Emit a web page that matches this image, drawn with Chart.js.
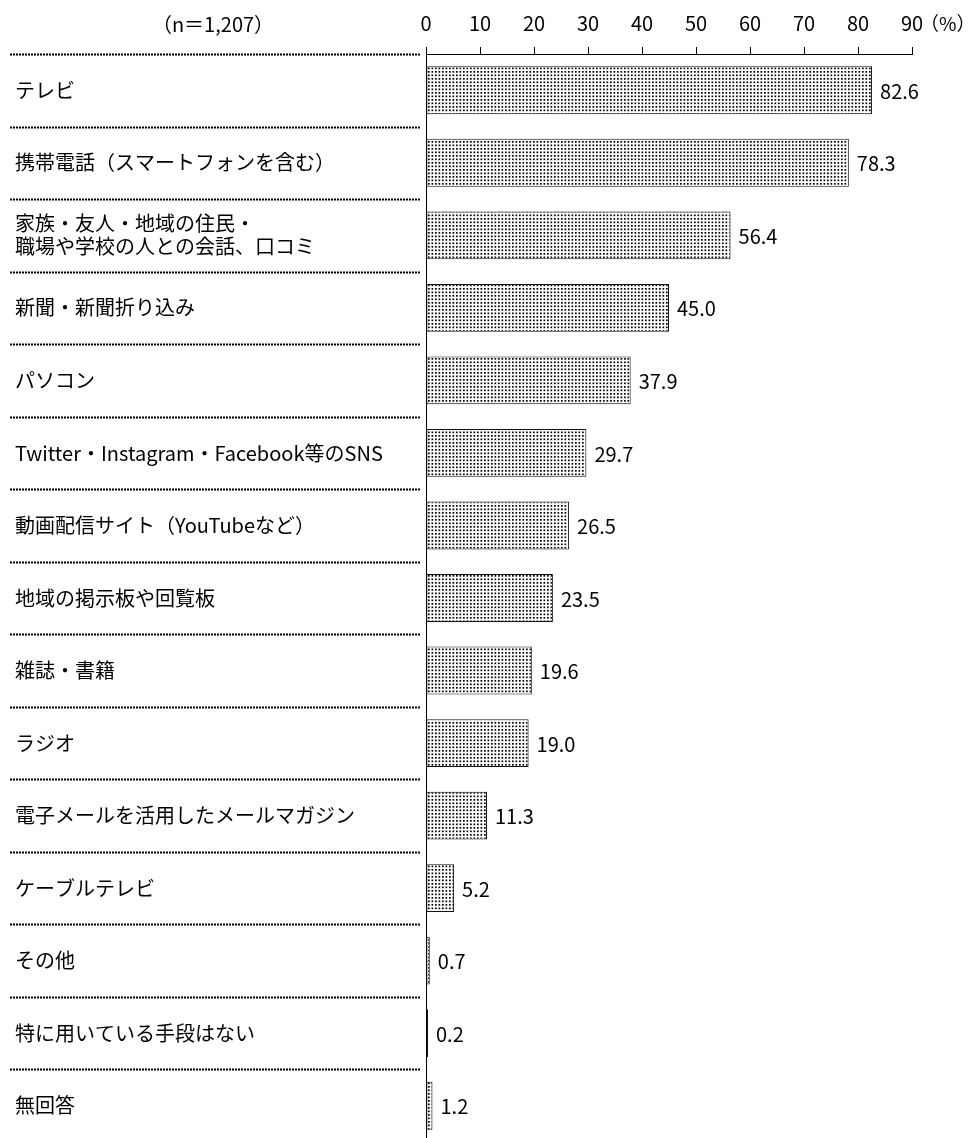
<!DOCTYPE html>
<html lang="ja">
<head>
<meta charset="utf-8">
<script src="https://cdn.jsdelivr.net/npm/chart.js@4"></script>
<style>
  body { margin: 0; background: #fff; overflow: hidden; }
</style>
</head>
<body>
<canvas id="graphCanvas" width="973" height="1142"></canvas>
<script>
// 項目名（2行のものは配列）
let categories = [
    'テレビ',
    '携帯電話（スマートフォンを含む）',
    ['家族・友人・地域の住民・', '職場や学校の人との会話、口コミ'],
    '新聞・新聞折り込み',
    'パソコン',
    'Twitter・Instagram・Facebook等のSNS',
    '動画配信サイト（YouTubeなど）',
    '地域の掲示板や回覧板',
    '雑誌・書籍',
    'ラジオ',
    '電子メールを活用したメールマガジン',
    'ケーブルテレビ',
    'その他',
    '特に用いている手段はない',
    '無回答'
];
// 割合（%）
let values = [82.6, 78.3, 56.4, 45.0, 37.9, 29.7, 26.5, 23.5, 19.6, 19.0, 11.3, 5.2, 0.7, 0.2, 1.2];
let tickMax = 90;
let tickStep = 10;
let sampleLabel = '（n＝1,207）';
let unitLabel = '（%）';

let fontFamily = '"Noto Sans CJK JP", "Noto Sans", sans-serif';
Chart.defaults.font.family = fontFamily;
Chart.defaults.color = '#000';

// 網掛け（ドット）パターン
function makeDotPattern() {
    let c = document.createElement('canvas');
    c.width = 7;
    c.height = 7;
    let g = c.getContext('2d');
    g.fillStyle = '#fff';
    g.fillRect(0, 0, 7, 7);
    g.fillStyle = '#000';
    g.fillRect(1, 1, 1.7, 1.7);
    g.fillRect(4.5, 1, 1.7, 1.7);
    g.fillRect(1, 4.5, 1.7, 1.7);
    g.fillRect(4.5, 4.5, 1.7, 1.7);
    return document.getElementById('graphCanvas').getContext('2d').createPattern(c, 'repeat');
}

// 項目の区切り線（点線）と見出し
let separatorPlugin = {
    id: 'separators',
    afterDraw: function(chart) {
        let ctx = chart.ctx;
        let y = chart.scales.y;
        let band = y.getPixelForValue(1) - y.getPixelForValue(0);
        ctx.save();
        ctx.strokeStyle = '#000';
        ctx.lineWidth = 2;
        ctx.setLineDash([2, 1]);
        for (let i = 0; i <= categories.length; i++) {
            let py = Math.round(y.getPixelForValue(i) - band / 2) + 0.5;
            ctx.beginPath();
            ctx.moveTo(10, py);
            ctx.lineTo(chart.chartArea.left - 6, py);
            ctx.stroke();
        }
        ctx.restore();

        ctx.save();
        ctx.fillStyle = '#000';
        ctx.font = '20px ' + fontFamily;
        ctx.textBaseline = 'middle';
        ctx.textAlign = 'center';
        ctx.fillText(sampleLabel, 213, 24);
        ctx.textAlign = 'left';
        ctx.font = '19px ' + fontFamily;
        ctx.fillText(unitLabel, 920, 24);
        ctx.restore();
    }
};

// 数値ラベル
let valueLabelPlugin = {
    id: 'valueLabels',
    afterDatasetsDraw: function(chart) {
        let ctx = chart.ctx;
        let meta = chart.getDatasetMeta(0);
        ctx.save();
        ctx.fillStyle = '#000';
        ctx.font = '20px ' + fontFamily;
        ctx.textBaseline = 'middle';
        ctx.textAlign = 'left';
        meta.data.forEach(function(bar, i) {
            ctx.fillText(values[i].toFixed(1), bar.x + 8, bar.y + 1);
        });
        ctx.restore();
    }
};

let graphCanvas = document.getElementById('graphCanvas').getContext('2d');
let barChart = new Chart(graphCanvas, {
    type: 'bar',
    data: {
        labels: categories,
        datasets: [{
            data: values,
            backgroundColor: makeDotPattern(),
            borderColor: '#111',
            borderWidth: 1,
            borderSkipped: false,
            minBarLength: 2,
            barPercentage: 0.66,
            categoryPercentage: 1.0
        }]
    },
    options: {
        indexAxis: 'y',
        responsive: false,
        animation: false,
        layout: {
            padding: { left: 15, right: 61, top: 0, bottom: 0 }
        },
        plugins: {
            legend: { display: false },
            tooltip: { enabled: false }
        },
        scales: {
            x: {
                type: 'linear',
                position: 'top',
                min: 0,
                max: tickMax,
                ticks: {
                    stepSize: tickStep,
                    padding: 12,
                    color: '#000',
                    font: { size: 20 }
                },
                grid: {
                    drawOnChartArea: false,
                    drawTicks: true,
                    tickLength: 7,
                    color: '#000'
                },
                border: { display: true, color: '#000', width: 1 },
                afterFit: function(scale) {
                    scale.height = 54;
                }
            },
            y: {
                type: 'category',
                ticks: {
                    crossAlign: 'far',
                    color: '#000',
                    font: { size: 20, lineHeight: 1.15 }
                },
                grid: { display: false, drawTicks: false },
                border: { display: true, color: '#000', width: 1 },
                afterFit: function(scale) {
                    scale.width = 411;
                    // 下端の余白を詰める
                    scale.paddingTop = 0;
                    scale.paddingBottom = 0;
                }
            }
        }
    },
    plugins: [separatorPlugin, valueLabelPlugin]
});
</script>
</body>
</html>
